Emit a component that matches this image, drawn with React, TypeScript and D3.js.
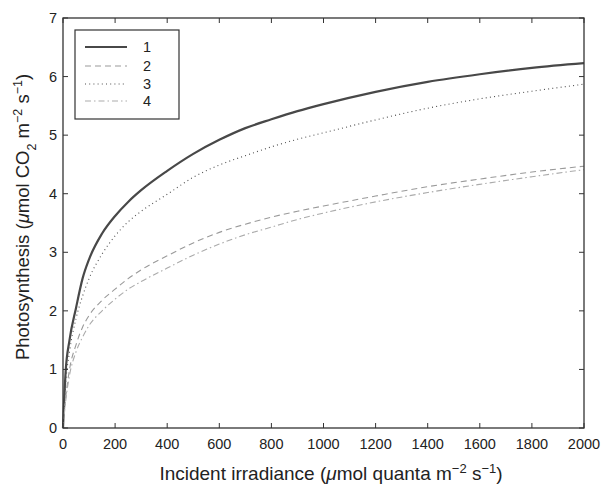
import React from "react";
import * as d3 from "d3";

const irradiance = [0, 10, 25, 50, 75, 100, 150, 200, 250, 300, 400, 500, 600, 700, 800, 900, 1000, 1200, 1400, 1600, 1800, 2000];
const series1 = [0, 0.95, 1.5, 2.05, 2.55, 2.88, 3.32, 3.62, 3.86, 4.06, 4.39, 4.68, 4.92, 5.12, 5.27, 5.41, 5.53, 5.74, 5.91, 6.04, 6.15, 6.23];
const series2 = [0, 0.5, 1.0, 1.42, 1.72, 1.92, 2.18, 2.37, 2.55, 2.7, 2.94, 3.16, 3.34, 3.48, 3.6, 3.7, 3.79, 3.96, 4.12, 4.25, 4.37, 4.47];
const series3 = [0, 0.75, 1.3, 1.87, 2.25, 2.55, 2.97, 3.28, 3.52, 3.7, 3.99, 4.28, 4.49, 4.65, 4.8, 4.93, 5.04, 5.26, 5.46, 5.62, 5.75, 5.87];
const series4 = [0, 0.45, 0.9, 1.3, 1.55, 1.75, 2.0, 2.2, 2.37, 2.5, 2.73, 2.95, 3.14, 3.3, 3.43, 3.56, 3.67, 3.86, 4.02, 4.16, 4.29, 4.41];
const seriesNames = ["1", "2", "3", "4"];
const xTicks = [0, 200, 400, 600, 800, 1000, 1200, 1400, 1600, 1800, 2000];
const yTicks = [0, 1, 2, 3, 4, 5, 6, 7];

const styles = [
  { stroke: "#484848", width: 2.2, dash: "" },
  { stroke: "#9a9a9a", width: 1.1, dash: "6,4" },
  { stroke: "#505050", width: 1.1, dash: "1,3.2" },
  { stroke: "#ababab", width: 1.1, dash: "6,3,1.5,3" },
];

export default function App() {
  const W = 609, H = 486;
  const left = 63, right = 584, top = 18, bottom = 428;
  const x = d3.scaleLinear().domain([0, 2000]).range([left, right]);
  const y = d3.scaleLinear().domain([0, 7]).range([bottom, top]);
  const allSeries = [series1, series2, series3, series4];
  const line = d3
    .line<[number, number]>()
    .x((d) => x(d[0]))
    .y((d) => y(d[1]))
    .curve(d3.curveMonotoneX);
  const font = "'Liberation Sans', Arial, Helvetica, sans-serif";
  const axisColor = "#333";
  const tickLen = 5;

  const legendX = 75, legendY = 30, legendW = 104, legendH = 89;
  const legendRows = [47, 66, 84, 101];

  return (
    <svg width={W} height={H} style={{ position: "absolute", left: 0, top: 0, background: "#fff" }} fontFamily={font}>
      <rect x={0} y={0} width={W} height={H} fill="#fff" />
      {allSeries.map((s, i) => (
        <path
          key={i}
          d={line(irradiance.map((v, j) => [v, s[j]] as [number, number])) || ""}
          fill="none"
          stroke={styles[i].stroke}
          strokeWidth={styles[i].width}
          strokeDasharray={styles[i].dash}
        />
      ))}
      {/* frame */}
      <rect x={left} y={top} width={right - left} height={bottom - top} fill="none" stroke={axisColor} strokeWidth={1.3} />
      {xTicks.map((t) => (
        <g key={"x" + t}>
          <line x1={x(t)} x2={x(t)} y1={bottom} y2={bottom - tickLen} stroke={axisColor} strokeWidth={1} />
          <line x1={x(t)} x2={x(t)} y1={top} y2={top + tickLen} stroke={axisColor} strokeWidth={1} />
          <text x={x(t)} y={449} textAnchor="middle" fontSize={14.5} fill="#222">
            {t}
          </text>
        </g>
      ))}
      {yTicks.map((t) => (
        <g key={"y" + t}>
          <line x1={left} x2={left + tickLen} y1={y(t)} y2={y(t)} stroke={axisColor} strokeWidth={1} />
          <line x1={right} x2={right - tickLen} y1={y(t)} y2={y(t)} stroke={axisColor} strokeWidth={1} />
          <text x={left - 6} y={y(t) + 5} textAnchor="end" fontSize={14.5} fill="#222">
            {t}
          </text>
        </g>
      ))}
      {/* legend */}
      <rect x={legendX} y={legendY} width={legendW} height={legendH} fill="#fff" stroke={axisColor} strokeWidth={1.2} />
      {seriesNames.map((n, i) => (
        <g key={"l" + n}>
          <line
            x1={85}
            x2={127}
            y1={legendRows[i]}
            y2={legendRows[i]}
            stroke={styles[i].stroke}
            strokeWidth={styles[i].width}
            strokeDasharray={styles[i].dash}
          />
          <text x={143} y={legendRows[i] + 5} fontSize={14.5} fill="#222">
            {n}
          </text>
        </g>
      ))}
      {/* axis labels */}
      <text x={331} y={480} textAnchor="middle" fontSize={19} fill="#222">
        Incident irradiance (<tspan fontStyle="italic">μ</tspan>mol quanta m
        <tspan baselineShift="super" fontSize={13}>−2</tspan> s
        <tspan baselineShift="super" fontSize={13}>−1</tspan>)
      </text>
      <text
        transform={`translate(29, 217) rotate(-90)`}
        textAnchor="middle"
        fontSize={18.5}
        fill="#222"
      >
        Photosynthesis (<tspan fontStyle="italic">μ</tspan>mol CO
        <tspan baselineShift="sub" fontSize={12.5}>2</tspan> m
        <tspan baselineShift="super" fontSize={12.5}>−2</tspan> s
        <tspan baselineShift="super" fontSize={12.5}>−1</tspan>)
      </text>
    </svg>
  );
}
